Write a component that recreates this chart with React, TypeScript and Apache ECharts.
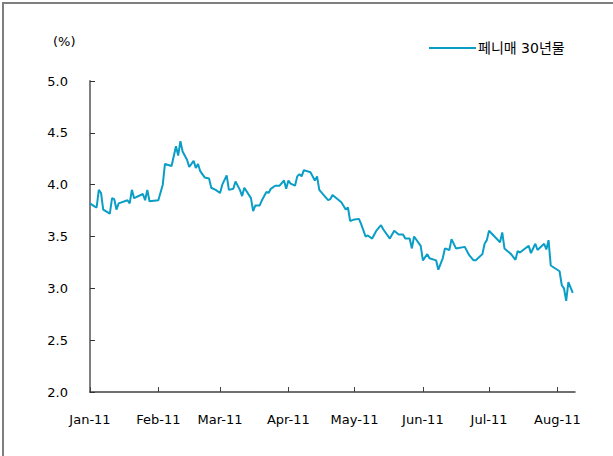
import React, { useEffect, useRef } from "react";
import * as echarts from "echarts";

const seriesName = "페니매 30년물";
const yUnit = "(%)";
const xTickLabels = ["Jan-11", "Feb-11", "Mar-11", "Apr-11", "May-11", "Jun-11", "Jul-11", "Aug-11"];
const axisStart = "2011-01-01";
const axisEnd = "2011-08-09";

const dates = [
  "2011-01-01", "2011-01-03", "2011-01-04", "2011-01-05", "2011-01-06", "2011-01-07",
  "2011-01-10", "2011-01-11", "2011-01-12", "2011-01-13", "2011-01-14", "2011-01-18",
  "2011-01-19", "2011-01-20", "2011-01-21", "2011-01-25", "2011-01-26", "2011-01-27",
  "2011-01-28", "2011-02-01", "2011-02-03", "2011-02-04", "2011-02-07", "2011-02-09",
  "2011-02-10", "2011-02-11", "2011-02-12", "2011-02-14", "2011-02-15", "2011-02-17",
  "2011-02-18", "2011-02-19", "2011-02-20", "2011-02-22", "2011-02-24", "2011-02-25",
  "2011-02-27", "2011-03-01", "2011-03-02", "2011-03-04", "2011-03-05", "2011-03-07",
  "2011-03-08", "2011-03-10", "2011-03-11", "2011-03-12", "2011-03-15", "2011-03-16",
  "2011-03-17", "2011-03-19", "2011-03-20", "2011-03-22", "2011-03-23", "2011-03-24",
  "2011-03-26", "2011-03-28", "2011-03-30", "2011-03-31", "2011-04-01", "2011-04-02",
  "2011-04-04", "2011-04-05", "2011-04-06", "2011-04-07", "2011-04-08", "2011-04-11",
  "2011-04-13", "2011-04-14", "2011-04-15", "2011-04-19", "2011-04-20", "2011-04-21",
  "2011-04-25", "2011-04-27", "2011-04-28", "2011-04-29", "2011-05-01", "2011-05-03",
  "2011-05-04", "2011-05-06", "2011-05-07", "2011-05-09", "2011-05-11", "2011-05-13",
  "2011-05-14", "2011-05-17", "2011-05-19", "2011-05-21", "2011-05-23", "2011-05-24",
  "2011-05-26", "2011-05-27", "2011-05-28", "2011-05-31", "2011-06-01", "2011-06-03",
  "2011-06-04", "2011-06-07", "2011-06-08", "2011-06-10", "2011-06-11", "2011-06-13",
  "2011-06-14", "2011-06-16", "2011-06-20", "2011-06-22", "2011-06-24", "2011-06-25",
  "2011-06-28", "2011-06-29", "2011-06-30", "2011-07-01", "2011-07-06", "2011-07-07",
  "2011-07-08", "2011-07-11", "2011-07-13", "2011-07-14", "2011-07-15", "2011-07-19",
  "2011-07-20", "2011-07-22", "2011-07-23", "2011-07-26", "2011-07-27", "2011-07-28",
  "2011-07-29", "2011-08-02", "2011-08-03", "2011-08-04", "2011-08-05", "2011-08-06",
  "2011-08-08",
];

const values = [
  3.82, 3.79, 3.78, 3.95, 3.92, 3.76,
  3.72, 3.87, 3.86, 3.76, 3.82, 3.85,
  3.82, 3.95, 3.87, 3.91, 3.85, 3.95,
  3.84, 3.85, 4.0, 4.2, 4.18, 4.37,
  4.28, 4.42, 4.32, 4.24, 4.17, 4.23,
  4.16, 4.2, 4.13, 4.07, 4.06, 3.97,
  3.95, 3.92, 4.0, 4.09, 3.95, 3.96,
  4.03, 3.95, 3.89, 3.97, 3.87, 3.745,
  3.8, 3.8, 3.85, 3.93, 3.92, 3.96,
  3.99, 3.99, 4.04, 3.96, 4.04, 4.01,
  3.99, 4.08, 4.1, 4.08, 4.14, 4.12,
  4.04, 4.08, 3.95, 3.85, 3.86, 3.9,
  3.83, 3.76, 3.78, 3.65, 3.665, 3.67,
  3.62, 3.5, 3.51, 3.48, 3.56, 3.61,
  3.57, 3.48, 3.555, 3.52, 3.52, 3.48,
  3.48, 3.385, 3.5, 3.41, 3.27, 3.33,
  3.29, 3.27, 3.18, 3.29, 3.385, 3.37,
  3.475, 3.385, 3.4, 3.32, 3.27, 3.27,
  3.33, 3.43, 3.465, 3.555, 3.445, 3.54,
  3.385, 3.33, 3.275, 3.36, 3.345, 3.41,
  3.34, 3.43, 3.37, 3.43, 3.375, 3.465,
  3.22, 3.165, 3.03, 3.0, 2.88, 3.06,
  2.955,
];

const FONT = "'DejaVu Sans', 'Noto Sans CJK KR', sans-serif";

function buildCalendar(start: string, end: string): string[] {
  const out: string[] = [];
  const s = Date.parse(start + "T00:00:00Z");
  const e = Date.parse(end + "T00:00:00Z");
  for (let t = s; t <= e; t += 86400000) {
    out.push(new Date(t).toISOString().slice(0, 10));
  }
  return out;
}

export default function App() {
  const ref = useRef<HTMLDivElement>(null);
  useEffect(() => {
    if (!ref.current) return;
    const chart = echarts.init(ref.current, undefined, { renderer: "svg" });
    const calendar = buildCalendar(axisStart, axisEnd);
    const isMonthStart = (_i: number, v: string) => v.slice(8, 10) === "01";
    chart.setOption({
      animation: false,
      backgroundColor: "#ffffff",
      textStyle: { fontFamily: FONT },
      grid: { left: 90, right: 38, top: 81, bottom: 64 },
      legend: {
        data: [{ name: seriesName, icon: "rect" }],
        left: 429,
        top: 41,
        padding: 0,
        itemWidth: 47,
        itemHeight: 2,
        itemGap: 4,
        textStyle: { fontSize: 14, color: "#000", fontFamily: FONT, padding: [0, 0, 0, -3] },
      },
      xAxis: {
        type: "category",
        data: calendar,
        boundaryGap: false,
        axisLine: { lineStyle: { color: "#404040", width: 1.5 } },
        axisTick: {
          inside: true,
          length: 5,
          interval: isMonthStart,
          lineStyle: { color: "#404040", width: 1 },
        },
        axisLabel: {
          interval: isMonthStart,
          margin: 21,
          fontSize: 13,
          color: "#000",
          fontFamily: FONT,
          formatter: (v: string) => xTickLabels[parseInt(v.slice(5, 7), 10) - 1],
        },
        splitLine: { show: false },
      },
      yAxis: {
        type: "value",
        min: 2,
        max: 5,
        interval: 0.5,
        axisLine: { show: true, lineStyle: { color: "#7f7f7f", width: 2 } },
        axisTick: { show: true, inside: true, length: 5, lineStyle: { color: "#333", width: 1 } },
        axisLabel: {
          margin: 22,
          fontSize: 13,
          color: "#000",
          fontFamily: FONT,
          formatter: (v: number) => v.toFixed(1),
        },
        splitLine: { show: false },
      },
      graphic: [
        {
          type: "rect",
          shape: { x: 3, y: 3, width: 800, height: 700 },
          style: { fill: "none", stroke: "#7f7f7f", lineWidth: 2 },
          silent: true,
        },
        {
          type: "text",
          left: 53,
          top: 35,
          style: { text: yUnit, fontSize: 13, fill: "#000", fontFamily: FONT },
        },
      ],
      series: [
        {
          name: seriesName,
          type: "line",
          data: dates.map((d, i) => [d, values[i]]),
          symbol: "none",
          showSymbol: false,
          lineStyle: { color: "#0a9ec6", width: 2 },
          itemStyle: { color: "#0a9ec6" },
        },
      ],
    });
    return () => chart.dispose();
  }, []);
  return (
    <div
      ref={ref}
      style={{ position: "fixed", left: 0, top: 0, width: 613, height: 456 }}
    />
  );
}
